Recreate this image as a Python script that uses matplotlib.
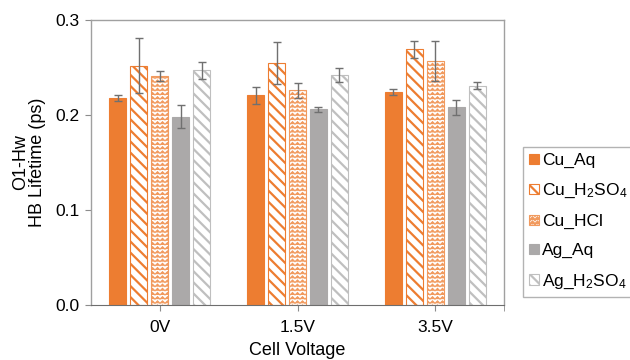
import warnings
import numpy as np
import matplotlib
matplotlib.use("Agg")
import matplotlib.pyplot as plt
from matplotlib import hatch as mhatch
from matplotlib.path import Path

warnings.filterwarnings("ignore")

voltages = ["0V", "1.5V", "3.5V"]
series = ["Cu_Aq", "Cu_H$\\mathregular{_2}$SO$\\mathregular{_4}$", "Cu_HCl",
          "Ag_Aq", "Ag_H$\\mathregular{_2}$SO$\\mathregular{_4}$"]
cu_aq = [0.218, 0.221, 0.224]
cu_aq_err = [0.003, 0.009, 0.003]
cu_h2so4 = [0.252, 0.255, 0.269]
cu_h2so4_err = [0.029, 0.022, 0.009]
cu_hcl = [0.241, 0.226, 0.257]
cu_hcl_err = [0.005, 0.008, 0.021]
ag_aq = [0.198, 0.206, 0.208]
ag_aq_err = [0.012, 0.0025, 0.008]
ag_h2so4 = [0.247, 0.242, 0.231]
ag_h2so4_err = [0.009, 0.007, 0.004]


# zigzag hatch ('z') to mimic the Excel wave pattern
class ZigZagHatch(mhatch.HatchPatternBase):
    def __init__(self, hatch, density):
        self.num_rows = int(hatch.count('z') * density)
        self.num_teeth = 20
        self.num_vertices = self.num_rows * (2 * self.num_teeth + 1)

    def set_vertices_and_codes(self, vertices, codes):
        pts = 2 * self.num_teeth + 1
        xs = np.linspace(0, 1, pts)
        wiggle = np.where(np.arange(pts) % 2 == 0, -1, 1) * 0.3 / self.num_rows
        for i in range(self.num_rows):
            y0 = (i + 0.5) / self.num_rows
            vertices[i * pts:(i + 1) * pts, 0] = xs
            vertices[i * pts:(i + 1) * pts, 1] = y0 + wiggle
            codes[i * pts] = Path.MOVETO
            codes[i * pts + 1:(i + 1) * pts] = Path.LINETO


mhatch._hatch_types.append(ZigZagHatch)

plt.rcParams['font.family'] = ['Liberation Sans', 'DejaVu Sans']
plt.rcParams['mathtext.fontset'] = 'custom'
plt.rcParams['mathtext.rm'] = 'Liberation Sans'
plt.rcParams['hatch.linewidth'] = 1.6

orange = '#ED7D31'
gray = '#ABA9A9'
lgray = '#BFBFBF'

values = [cu_aq, cu_h2so4, cu_hcl, ag_aq, ag_h2so4]
errors = [cu_aq_err, cu_h2so4_err, cu_hcl_err, ag_aq_err, ag_h2so4_err]
faces = [orange, 'white', 'white', gray, 'white']
edges = [orange, orange, '#F19A5E', gray, lgray]
hatches = [None, '\\\\\\', 'zzzz', None, '\\\\\\']
hatch_lw = [1.6, 1.6, 0.8, 1.6, 1.6]

fig = plt.figure(figsize=(6.3, 3.6), dpi=100)
ax = fig.add_axes([91 / 630, 55 / 360, 413 / 630, 285 / 360])

x = np.arange(len(voltages))
step = 0.1525
width = 0.125
handles = []
for i in range(5):
    bars = ax.bar(x + (i - 2) * step, values[i], width, color=faces[i],
                  edgecolor=edges[i], hatch=hatches[i], linewidth=0.8,
                  label=series[i], zorder=2)
    for b in bars:
        if hasattr(b, 'set_hatch_linewidth'):
            b.set_hatch_linewidth(hatch_lw[i])
    ax.errorbar(x + (i - 2) * step, values[i], yerr=errors[i], fmt='none',
                ecolor='#707070', elinewidth=1, capsize=3, capthick=1, zorder=3)
    handles.append(bars)

ax.set_xlim(-0.5, 2.5)
ax.set_ylim(0, 0.3)
ax.set_yticks([0, 0.1, 0.2, 0.3])
ax.set_yticklabels(['0.0', '0.1', '0.2', '0.3'])
ax.set_xticks(x)
ax.set_xticklabels(voltages)
ax.set_xticks([2.5], minor=True)
ax.tick_params(axis='both', labelsize=12.5, length=4, color='#8C8C8C',
               labelcolor='black')
ax.tick_params(axis='x', which='minor', length=4, color='#8C8C8C')
ax.tick_params(axis='x', pad=7)
ax.tick_params(axis='y', pad=4)

for s in ['top', 'right', 'left']:
    ax.spines[s].set_color('#A0A0A0')
    ax.spines[s].set_linewidth(1)
ax.spines['bottom'].set_color('#6E6E6E')

ax.set_ylabel('O1-Hw\nHB Lifetime (ps)', fontsize=13, linespacing=0.95)
ax.yaxis.set_label_coords(-0.11, 0.5)
ax.set_xlabel('Cell Voltage', fontsize=13, labelpad=4.5)

leg = fig.legend(handles, series, loc='upper left',
                 bbox_to_anchor=(523 / 630, 213 / 360), fontsize=12.5,
                 frameon=True, fancybox=False, handlelength=0.55,
                 handleheight=0.55, handletextpad=0.2, labelspacing=0.8,
                 borderpad=0.35, borderaxespad=0)
leg.get_frame().set_edgecolor('#A0A0A0')
leg.get_frame().set_linewidth(1)

fig.savefig('out.png', dpi=100)
